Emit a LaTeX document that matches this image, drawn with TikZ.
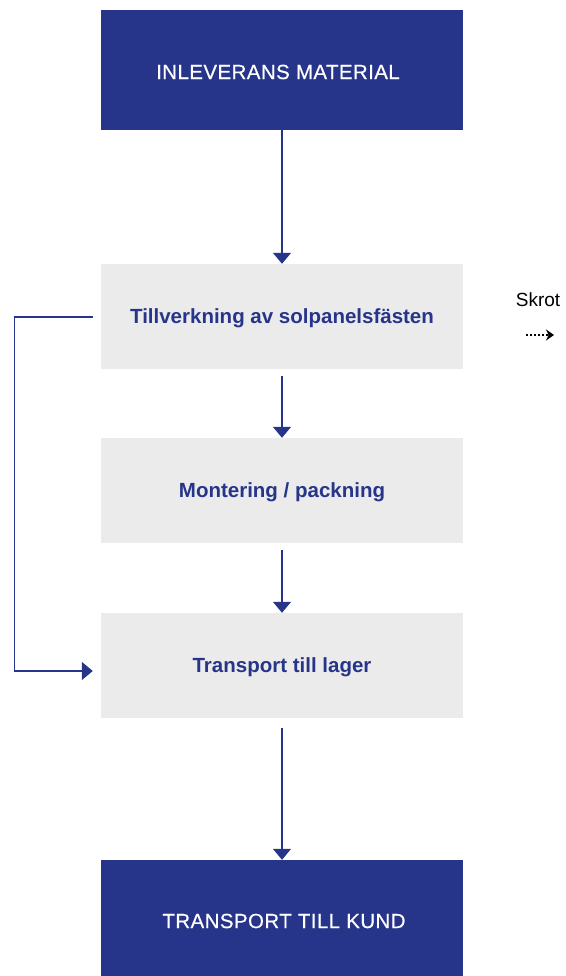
\documentclass[tikz,border=0pt]{standalone}
\usepackage{fontspec}
\setmainfont{Liberation Sans}
\usetikzlibrary{arrows.meta}
\definecolor{navy}{HTML}{26358A}
\definecolor{lightgray}{HTML}{EBEBEB}
\begin{document}
\begin{tikzpicture}[x=1pt,y=-1pt,
  darkbox/.style={fill=navy,minimum width=362pt,minimum height=120pt,inner sep=0pt},
  graybox/.style={fill=lightgray,minimum width=362pt,minimum height=105pt,inner sep=0pt},
  darklabel/.style={text=white,font=\addfontfeatures{LetterSpace=2,FakeBold=0.4}\fontsize{20.5}{24}\selectfont},
  graylabel/.style={text=navy,font=\bfseries\fontsize{20.5}{24}\selectfont},
  flow/.style={draw=navy,line width=1.3pt,-{Triangle[width=18pt,length=11pt]},color=navy}]
\useasboundingbox (0,0) rectangle (565,976);
\node[darkbox] (t1) at (282,70) {};
\node[darklabel] (l1) at (278,72) {INLEVERANS MATERIAL};
\node[graybox] (t2) at (282,316.5) {};
\node[graylabel] (l2) at (282,318) {Tillverkning av solpanelsfästen};
\node[graybox] (t3) at (282,490.5) {};
\node[graylabel] (l3) at (282,492) {Montering / packning};
\node[graybox] (t4) at (282,665.5) {};
\node[graylabel] (l4) at (282,667) {Transport till lager};
\node[darkbox,minimum height=116pt] (t5) at (282,918) {};
\node[darklabel] (l5) at (284,921) {TRANSPORT TILL KUND};
\node[font=\fontsize{19}{22}\selectfont] (skrot) at (538,300) {Skrot};
\coordinate (s1) at (526,335);
\coordinate (s2) at (554,335);
\draw[line width=2pt,dash pattern=on 2.2pt off 1.8pt,-{Stealth[width=11pt,length=8pt]}] (s1) -- (s2);
\draw[flow] (t1.south) -- (t2.north);
\draw[flow] ([yshift=-7]t2.south) -- (t3.north);
\draw[flow] ([yshift=-7]t3.south) -- (t4.north);
\draw[flow] ([yshift=-10]t4.south) -- (t5.north);
\draw[flow] ([xshift=-8,yshift=-0.5]t2.west) -- ++(-78,0) |- ([xshift=-8,yshift=-5.5]t4.west);
\end{tikzpicture}
\end{document}
